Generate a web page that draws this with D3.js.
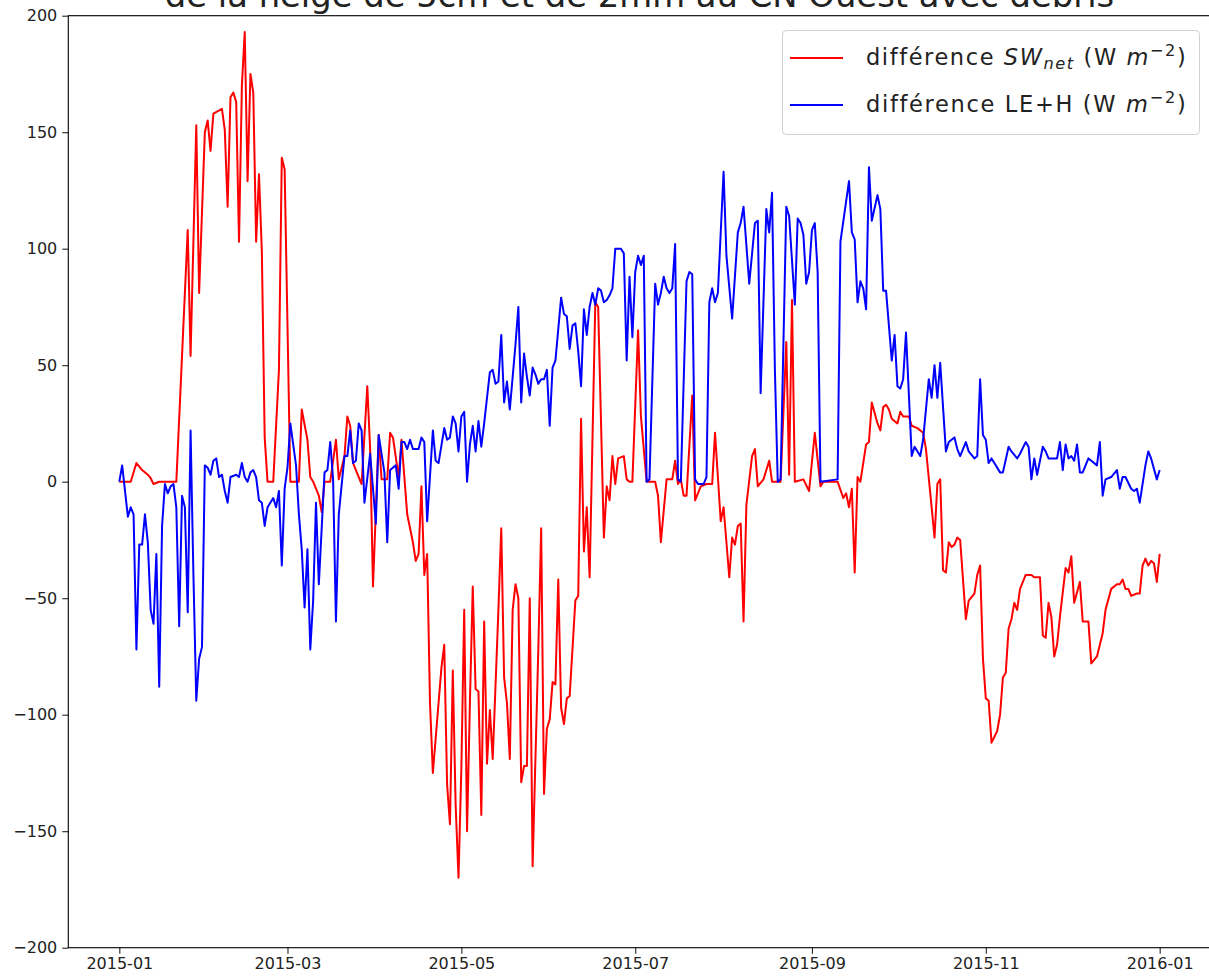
<!DOCTYPE html>
<html><head><meta charset="utf-8">
<script src="https://cdn.jsdelivr.net/npm/d3@7"></script>
<style>body{margin:0;background:#fff}svg{display:block;font-family:"DejaVu Sans",sans-serif}</style>
</head><body><svg id="c" width="1209" height="979"></svg>
<script>
const titleText = "de la neige de 5cm et de 2mm au CN Ouest avec débris";
const startDate = "2015-01-01";
const xTickLabels = ["2015-01","2015-03","2015-05","2015-07","2015-09","2015-11","2016-01"];
const yTickValues = [-200,-150,-100,-50,0,50,100,150,200];
// [day offset from 2015-01-01, value]
const swPoints = [[0,0],[4,0],[6,8],[8,5],[10,3],[11,1.5],[12,-1],[14,0],[20,0],[24,108],[25,54],[27,153],[28,81],[30,150],[31,155],[32,142],[33,158],[36,160],[37,151],[38,118],[39,165],[40,167],[41,163],[42,103],[43,170],[44,193],[45,129],[46,175],[47,167],[48,103],[49,132],[50,99],[51,19],[52,0],[54,0],[56,48],[57,139],[58,134],[60,0],[63,0],[64,31],[66,18],[67,2],[68,0],[70,-6],[71,-13],[72,0],[74,0],[76,18],[77,1],[79,11],[80,28],[81,24],[82,8],[84,2],[85,-1],[87,41],[88,14],[89,-45],[91,20],[92,1],[94,1],[95,21],[96,19],[98,2],[99,18],[101,-14],[103,-26],[104,-34],[105,-31],[106,-2],[107,-40],[108,-31],[109,-95],[110,-125],[111,-110],[112,-95],[113,-80],[114,-70],[115,-130],[116,-147],[117,-81],[118,-139],[119,-170],[120,-123],[121,-55],[122,-150],[123,-95],[124,-45],[125,-89],[126,-90],[127,-143],[128,-60],[129,-121],[130,-98],[131,-119],[133,-55],[134,-20],[135,-84],[136,-95],[137,-119],[138,-55],[139,-44],[140,-50],[141,-129],[142,-122],[143,-122],[144,-50],[145,-165],[147,-72],[148,-20],[149,-134],[150,-106],[151,-102],[152,-86],[153,-87],[154,-42],[155,-97],[156,-104],[157,-93],[158,-92],[160,-51],[161,-49],[162,27],[163,-30],[164,-11],[165,-41],[167,77],[168,75],[170,-24],[171,-2],[172,-8],[173,11],[174,-1],[175,10],[177,11],[178,1],[179,0],[180,0],[182,65],[183,28],[185,0],[188,0],[189,-6],[190,-26],[192,1],[194,1],[195,9],[196,-1],[197,1],[198,-6],[199,-6],[201,37],[202,-8],[203,-5],[204,-2],[206,-1],[208,-1],[209,21],[211,-17],[212,-11],[214,-41],[215,-24],[216,-27],[217,-19],[218,-18],[219,-60],[220,-10],[222,11],[223,14],[224,-2],[226,1],[228,9],[229,0],[232,0],[234,60],[235,3],[236,78],[237,0],[240,1],[242,-4],[244,21],[246,-2],[247,0],[252,0],[254,-7],[255,-5],[256,-11],[257,-3],[258,-39],[259,2],[260,0],[262,16],[263,17],[264,34],[266,25],[267,22],[268,32],[269,33],[270,31],[271,27],[273,25],[274,30],[275,28],[277,28],[278,24],[280,23],[282,21],[283,14],[285,-11],[286,-24],[287,-1],[288,1],[289,-38],[290,-39],[291,-26],[292,-28],[293,-27],[294,-24],[295,-25],[297,-59],[298,-51],[300,-48],[301,-40],[302,-36],[303,-76],[304,-93],[305,-94],[306,-112],[308,-107],[309,-100],[310,-84],[311,-82],[312,-63],[313,-59],[314,-52],[315,-55],[316,-46],[318,-40],[320,-40],[321,-41],[323,-41],[324,-66],[325,-67],[326,-52],[327,-58],[328,-75],[329,-70],[330,-58],[332,-37],[333,-39],[334,-32],[335,-52],[337,-43],[338,-60],[340,-60],[341,-78],[343,-75],[345,-65],[346,-55],[348,-46],[350,-44],[351,-44],[352,-42],[353,-46],[354,-46],[355,-49],[357,-48],[358,-48],[359,-36],[360,-33],[361,-36],[362,-34],[363,-35],[364,-43],[365,-31]];
const lehPoints = [[0,0],[1,7],[3,-15],[4,-11],[5,-14],[6,-72],[7,-27],[8,-27],[9,-14],[10,-26],[11,-55],[12,-61],[13,-31],[14,-88],[15,-19],[16,-1],[17,-5],[18,-2],[19,-1],[20,-11],[21,-62],[22,-6],[23,-11],[24,-56],[25,22],[26,-40],[27,-94],[28,-76],[29,-71],[30,7],[31,6],[32,3],[33,9],[34,10],[35,2],[36,3],[37,-4],[38,-9],[39,2],[41,3],[42,2],[43,8],[44,2],[45,0],[46,4],[47,5],[48,2],[49,-8],[50,-9],[51,-19],[52,-11],[54,-7],[55,-11],[56,-4],[57,-36],[58,-3],[59,6],[60,25],[62,7],[63,-14],[64,-29],[65,-54],[66,-29],[67,-72],[68,-51],[69,-9],[70,-44],[71,-20],[72,4],[73,5],[74,17],[75,1],[76,-60],[77,-14],[79,11],[80,11],[81,22],[82,8],[83,9],[84,25],[85,22],[86,-9],[88,12],[90,-18],[91,20],[93,4],[94,-26],[95,5],[97,7],[98,-3],[99,17],[100,17],[101,14],[102,18],[103,14],[105,14],[106,19],[107,17],[108,-17],[110,22],[111,9],[112,8],[114,23],[115,18],[116,19],[117,28],[118,25],[119,13],[120,28],[121,30],[122,0],[123,16],[124,24],[125,13],[126,26],[127,15],[128,25],[130,47],[131,48],[132,42],[133,43],[134,63],[135,34],[136,43],[137,31],[139,59],[140,75],[141,34],[142,55],[143,45],[144,37],[145,49],[146,46],[147,42],[148,44],[149,44],[150,48],[151,24],[152,49],[153,52],[155,79],[156,72],[157,71],[158,57],[159,67],[160,68],[161,56],[162,41],[163,74],[164,63],[165,75],[166,81],[167,76],[168,83],[169,82],[170,77],[171,78],[172,80],[173,83],[174,100],[176,100],[177,98],[178,52],[179,88],[180,62],[181,90],[182,97],[183,93],[184,97],[185,0],[186,1],[188,85],[189,76],[190,81],[191,88],[192,83],[193,81],[194,83],[195,102],[196,1],[197,0],[199,86],[200,90],[201,89],[202,1],[203,-1],[205,-1],[206,2],[207,77],[208,83],[209,77],[210,81],[212,133],[213,97],[215,70],[217,107],[218,111],[219,118],[221,85],[223,111],[224,112],[225,38],[227,117],[228,107],[229,124],[230,48],[231,0],[232,1],[234,118],[235,114],[237,76],[238,113],[239,111],[240,106],[241,85],[242,90],[243,108],[244,111],[245,90],[246,0],[252,1],[253,103],[256,129],[257,107],[258,104],[259,77],[260,86],[261,83],[262,74],[263,135],[264,112],[266,123],[267,117],[268,82],[269,82],[271,52],[272,63],[273,41],[274,40],[275,44],[276,64],[278,11],[279,15],[281,11],[282,18],[284,44],[285,36],[286,50],[287,36],[288,51],[290,13],[291,17],[293,19],[294,14],[295,11],[297,17],[298,13],[300,10],[301,11],[302,44],[303,20],[304,18],[305,8],[306,10],[307,8],[309,4],[310,4],[312,15],[313,13],[315,10],[316,12],[318,17],[319,15],[320,1],[321,10],[322,3],[324,15],[325,13],[326,10],[328,10],[329,10],[330,17],[331,5],[332,16],[333,10],[334,11],[335,9],[336,16],[337,4],[338,4],[340,10],[341,9],[343,7],[344,17],[345,-6],[346,1],[348,2],[350,5],[351,-3],[352,2],[353,2],[355,-3],[356,-4],[357,-3],[358,-9],[360,7],[361,13],[362,10],[364,1],[365,5]];

const svg = d3.select("#c");
const L = 68.3, R = 1210.7, T = 15.7, B = 947.7;
const t0 = d3.utcParse("%Y-%m-%d")(startDate);
const toDate = d => d3.utcDay.offset(t0, d[0]);
const pad = 17.9;
const x = d3.scaleUtc()
  .domain([new Date(+t0 - pad*864e5), new Date(+d3.utcDay.offset(t0,365) + pad*864e5)])
  .range([L, R]);
const y = d3.scaleLinear().domain([-200, 200]).range([B, T]);
const FS = 16;

const line = d3.line().x(d => x(toDate(d))).y(d => y(d[1]));
const g = svg.append("g");
g.append("path").datum(swPoints).attr("d", line).attr("fill","none").attr("stroke","#ff0000").attr("stroke-width",2).attr("stroke-linejoin","round");
g.append("path").datum(lehPoints).attr("d", line).attr("fill","none").attr("stroke","#0000ff").attr("stroke-width",2).attr("stroke-linejoin","round");

const xTicks = xTickLabels.map(s => d3.utcParse("%Y-%m")(s));
const xAxis = svg.append("g").attr("transform",`translate(0,${B})`)
  .call(d3.axisBottom(x).tickValues(xTicks).tickFormat(d3.utcFormat("%Y-%m")).tickSize(6).tickPadding(4));
const yAxis = svg.append("g").attr("transform",`translate(${L},0)`)
  .call(d3.axisLeft(y).tickValues(yTickValues).tickFormat(d => d < 0 ? "\u2212" + Math.abs(d) : String(d)).tickSize(6).tickPadding(5));
[xAxis, yAxis].forEach(a => {
  a.select(".domain").remove();
  a.selectAll("text").attr("font-family","DejaVu Sans").attr("font-size",FS).attr("fill","#222");
  a.selectAll("line").attr("stroke","#222").attr("stroke-width",1.1);
});
// spines
svg.append("rect").attr("x",L).attr("y",T).attr("width",R-L).attr("height",B-T).attr("fill","none").attr("stroke","#000").attr("stroke-width",1.1);

// title (upper part clipped by window, as in the reference)
const tt = svg.append("text").attr("x",(L+R)/2).attr("y",7).attr("text-anchor","middle").attr("fill","#222").attr("font-size",28).text(titleText);
const tl = tt.node().getComputedTextLength();
tt.attr("font-size", 28*950/tl);

// legend
const lg = svg.append("g");
lg.append("rect").attr("x",782.5).attr("y",30.5).attr("width",417).attr("height",104).attr("rx",4)
  .attr("fill","#fff").attr("fill-opacity",0.8).attr("stroke","#d0d0d0").attr("stroke-width",1);
const LFS = 22.5;
const items = [{color:"#ff0000", ly:58, kind:"sw"},{color:"#0000ff", ly:105, kind:"leh"}];
items.forEach(it => {
  lg.append("line").attr("x1",790).attr("x2",843).attr("y1",it.ly).attr("y2",it.ly).attr("stroke",it.color).attr("stroke-width",2);
  const t = lg.append("text").attr("x",866).attr("y",it.ly+6.5).attr("font-size",LFS).attr("fill","#222");
  if (it.kind === "sw") {
    t.append("tspan").text("différence ");
    t.append("tspan").attr("font-style","italic").text("SW");
    t.append("tspan").attr("font-style","italic").attr("font-size",LFS*0.72).attr("dy",4.5).text("net");
    t.append("tspan").attr("dy",-4.5).text(" (W ");
  } else {
    t.append("tspan").text("différence LE+H (W ");
  }
  t.append("tspan").attr("font-style","italic").text("m");
  t.append("tspan").attr("font-size",LFS*0.72).attr("dy",-9).text("\u22122");
  t.append("tspan").attr("dy",9).text(")");
  // stretch spacing so the label spans the same width as in the reference
  const len = t.node().getComputedTextLength();
  const n = t.text().length;
  t.attr("letter-spacing", Math.max(0, (321 - len) / n));
});
</script></body></html>
